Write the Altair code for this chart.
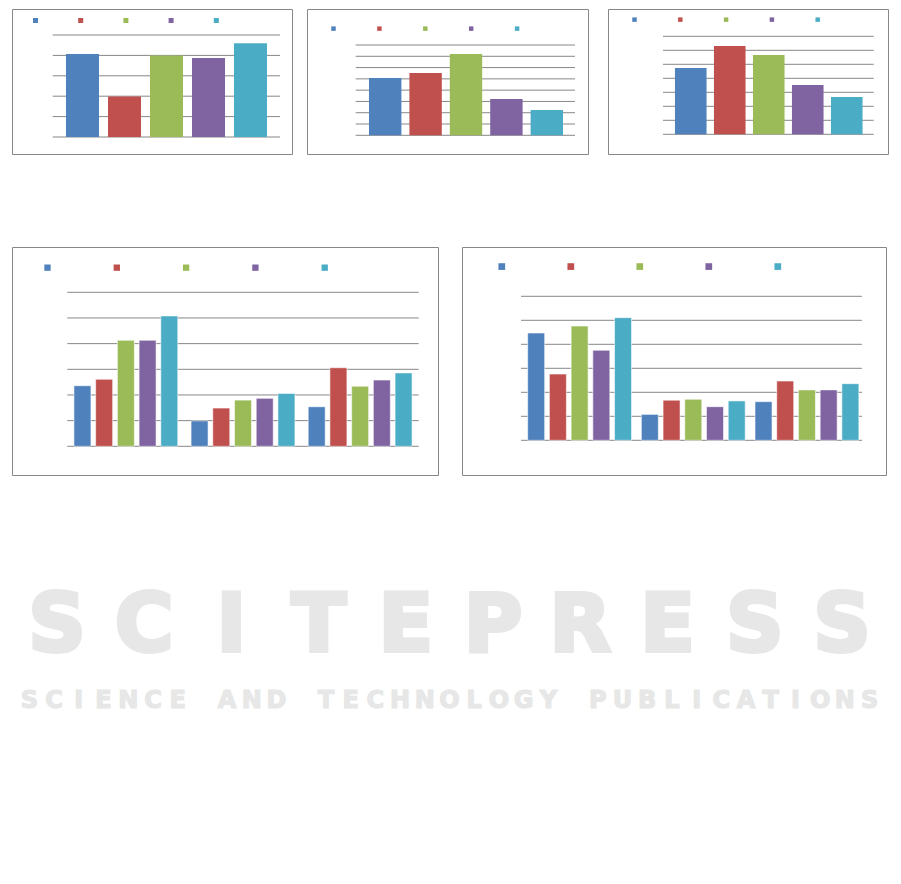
import altair as alt
import pandas as pd

# ---------------- data ----------------
series = ["S1", "S2", "S3", "S4", "S5"]
palette = ["#4F81BD", "#C0504D", "#9BBB59", "#8064A2", "#4BACC6"]

p1_values = [4.07, 1.98, 3.99, 3.87, 4.60]
p2_values = [5.08, 5.52, 7.20, 3.21, 2.24]
p3_values = [4.74, 6.31, 5.66, 3.52, 2.66]

groups = ["G1", "G2", "G3"]
p4_values = {
    "S1": [2.36, 0.99, 1.54],
    "S2": [2.61, 1.49, 3.06],
    "S3": [4.13, 1.80, 2.34],
    "S4": [4.13, 1.87, 2.58],
    "S5": [5.08, 2.06, 2.86],
}
p5_values = {
    "S1": [4.47, 1.08, 1.61],
    "S2": [2.76, 1.67, 2.47],
    "S3": [4.76, 1.71, 2.10],
    "S4": [3.75, 1.40, 2.10],
    "S5": [5.11, 1.64, 2.36],
}

watermark_word = "SCITEPRESS"
watermark_line = "SCIENCE AND TECHNOLOGY PUBLICATIONS"

GRID = "#878787"
BOX = "#878787"
WM = "#e6e7e6"


def color_enc(lx, ly, size, cpad):
    return alt.Color(
        "series:N",
        scale=alt.Scale(domain=series, range=palette),
        legend=alt.Legend(
            orient="none", legendX=lx, legendY=ly, direction="horizontal",
            symbolType="square", symbolSize=size, symbolStrokeWidth=0,
            labelExpr="''", labelFontSize=1, labelOffset=0,
            columnPadding=cpad, title=None, padding=0,
        ),
    )


def grid_layer(n, yscale, gx):
    gdf = pd.DataFrame({"g": list(range(n + 1))})
    return alt.Chart(gdf).mark_rule(color=GRID, strokeWidth=1).encode(
        y=alt.Y("g:Q", scale=yscale, axis=None),
        x=alt.value(gx[0]), x2=alt.value(gx[1]),
    )


def single_panel(values, n, w, h, gx, yr, xr, pin, leg):
    yscale = alt.Scale(domain=[0, n], range=yr, nice=False, zero=True)
    df = pd.DataFrame({"series": series, "value": values})
    bars = alt.Chart(df).mark_bar().encode(
        x=alt.X("series:N", sort=series, axis=None,
                scale=alt.Scale(range=xr, paddingInner=pin, paddingOuter=pin / 2)),
        y=alt.Y("value:Q", scale=yscale, axis=None),
        color=color_enc(*leg),
    )
    return alt.layer(grid_layer(n, yscale, gx), bars).properties(width=w, height=h)


def group_panel(vals, n, w, h, gx, yr, gpi, opi, leg):
    yscale = alt.Scale(domain=[0, n], range=yr, nice=False, zero=True)
    rows = []
    for s in series:
        for g, v in zip(groups, vals[s]):
            rows.append({"group": g, "series": s, "value": v})
    df = pd.DataFrame(rows)
    bars = alt.Chart(df).mark_bar(stroke="white", strokeOpacity=0.55, strokeWidth=1).encode(
        x=alt.X("group:N", sort=groups, axis=None,
                scale=alt.Scale(range=gx, paddingInner=gpi, paddingOuter=gpi / 2)),
        xOffset=alt.XOffset("series:N", sort=series,
                            scale=alt.Scale(paddingInner=opi, paddingOuter=opi / 2)),
        y=alt.Y("value:Q", scale=yscale, axis=None),
        color=color_enc(*leg),
    )
    return alt.layer(grid_layer(n, yscale, gx), bars).properties(width=w, height=h)


p1 = single_panel(p1_values, 5, 280, 145, [40.7, 268], [128, 26], [49.5, 259.5], 0.214,
                  (21, 9, 25, 40.2))
p2 = single_panel(p2_values, 8, 281, 145, [48.7, 268], [126.3, 36], [58, 260], 0.198,
                  (24, 17, 20, 40.9))
p3 = single_panel(p3_values, 7, 280, 145, [55, 265.7], [125.3, 27.3], [63.25, 258.25], 0.19,
                  (24, 8, 20, 40.8))
p4 = group_panel(p4_values, 6, 426, 228, [55.3, 406.7], [199.3, 45.3], 0.073, 0.218,
                 (32, 17, 40, 62.3))
p5 = group_panel(p5_values, 6, 424, 228, [59, 400], [193.3, 49.3], 0.076, 0.19,
                 (36.3, 16, 45, 62))


def indep(c):
    return c.resolve_scale(color="independent", x="independent", y="independent").resolve_legend(
        color="independent")


row1 = indep(alt.hconcat(indep(alt.hconcat(p1, p2, spacing=13)), p3, spacing=18))
row2 = indep(alt.hconcat(p4, p5, spacing=22))
panels = indep(alt.vconcat(row1, row2, spacing=91))

# watermark
wdf = pd.DataFrame({"i": list(range(len(watermark_word))), "ch": list(watermark_word)})
ldf = pd.DataFrame({"j": list(range(len(watermark_line))), "c": list(watermark_line)})
big = alt.Chart(wdf).mark_text(font="DejaVu Sans", fontWeight="bold", fontSize=80,
                               color=WM, stroke=WM, strokeWidth=4, strokeJoin="miter",
                               align="center", baseline="alphabetic").encode(
    x=alt.X("i:O", axis=None, scale=alt.Scale(type="point", range=[45, 830], padding=0)),
    y=alt.value(170), text="ch:N")
small = alt.Chart(ldf).mark_text(font="DejaVu Sans", fontWeight="bold", fontSize=24,
                                 color=WM, stroke=WM, strokeWidth=1.2,
                                 align="center", baseline="alphabetic").encode(
    x=alt.X("j:O", axis=None, scale=alt.Scale(type="point", range=[17.4, 857.6], padding=0)),
    y=alt.value(227), text="c:N")
watermark = alt.layer(big, small).resolve_scale(x="independent").properties(
    width=870, height=380, view=alt.ViewBackground(stroke="transparent"))

chart = indep(alt.vconcat(panels, watermark, spacing=4)).properties(
    padding={"left": 3, "top": 0, "right": 0, "bottom": 0}, background="white"
).configure_view(stroke=BOX, strokeWidth=1, fill="white")

chart.save("out.html", embed_options={"renderer": "svg", "actions": False})
